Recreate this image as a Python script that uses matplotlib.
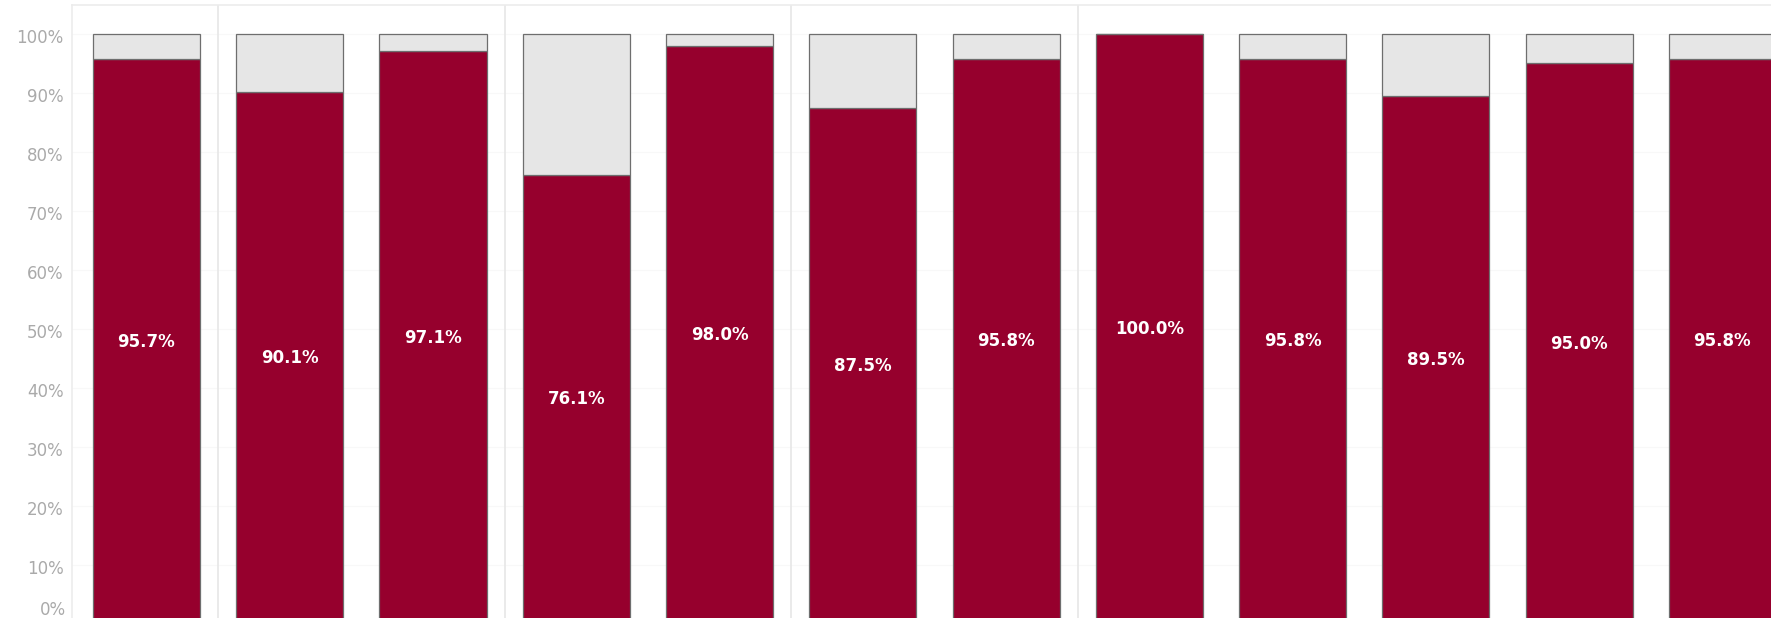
import matplotlib
matplotlib.use("Agg")
import matplotlib.pyplot as plt
import matplotlib.transforms as mtransforms
from matplotlib.ticker import FuncFormatter

# ---- data ----
values = [95.7, 90.1, 97.1, 76.1, 98.0, 87.5, 95.8, 100.0, 95.8, 89.5, 95.0, 95.8]
group_sizes = [1, 2, 2, 2, 5]
y_ticks = [0, 10, 20, 30, 40, 50, 60, 70, 80, 90, 100]

RED = "#96002d"
GREY = "#e6e6e6"
EDGE = "#6e6e6e"
LINE = "#e6e6e6"
TXT = "#aaaaaa"

plt.rcParams["font.family"] = ["DejaVu Sans"]

fig = plt.figure(figsize=(17.71, 6.18), dpi=100)
ax = fig.add_axes([72 / 1771, -6 / 618, 1 - 72 / 1771, 619 / 618])

x = list(range(len(values)))
rest = [100 - v for v in values]
width = 0.747

ax.bar(x, values, width=width, color=RED, edgecolor=EDGE, linewidth=0.9, zorder=3)
ax.bar(x, rest, width=width, bottom=values, color=GREY, edgecolor=EDGE,
       linewidth=0.9, zorder=3)

for xi, v in zip(x, values):
    ax.text(xi, v / 2, f"{v:.1f}%", ha="center", va="center", color="white",
            fontsize=12, fontweight="bold", zorder=4)

# group separators
pos = 0
for g in group_sizes[:-1]:
    pos += g
    ax.axvline(pos - 0.5, color=LINE, linewidth=1.2, zorder=1)

ax.set_xlim(-0.52, 11.34)
ax.set_ylim(0, 104.9)

ax.set_yticks(y_ticks[1:])
ax.yaxis.set_major_formatter(FuncFormatter(lambda v, p: f"{int(round(v))}%"))
ax.tick_params(axis="y", length=0, pad=6, labelsize=12, labelcolor=TXT)
ax.tick_params(axis="x", length=0, labelbottom=False)
offset = mtransforms.ScaledTranslation(0, -2.5 / 100, fig.dpi_scale_trans)
for lab in ax.get_yticklabels():
    lab.set_transform(lab.get_transform() + offset)

# 0% label pushed into view
ax.annotate(f"{y_ticks[0]}%", xy=(0, 0), xycoords=("axes fraction", "data"),
            xytext=(-4.3, 10), textcoords="offset points", ha="right",
            va="center", fontsize=12, color=TXT, annotation_clip=False)

ax.yaxis.grid(True, color="#f8f8f8", linewidth=0.8, zorder=0)
ax.set_axisbelow(True)

for s in ["right", "bottom"]:
    ax.spines[s].set_visible(False)
ax.spines["left"].set_color("#ececec")
ax.spines["top"].set_color("#ececec")
ax.spines["left"].set_linewidth(1.2)
ax.spines["top"].set_linewidth(1.2)

fig.savefig("out.png", dpi=100, facecolor="white")
